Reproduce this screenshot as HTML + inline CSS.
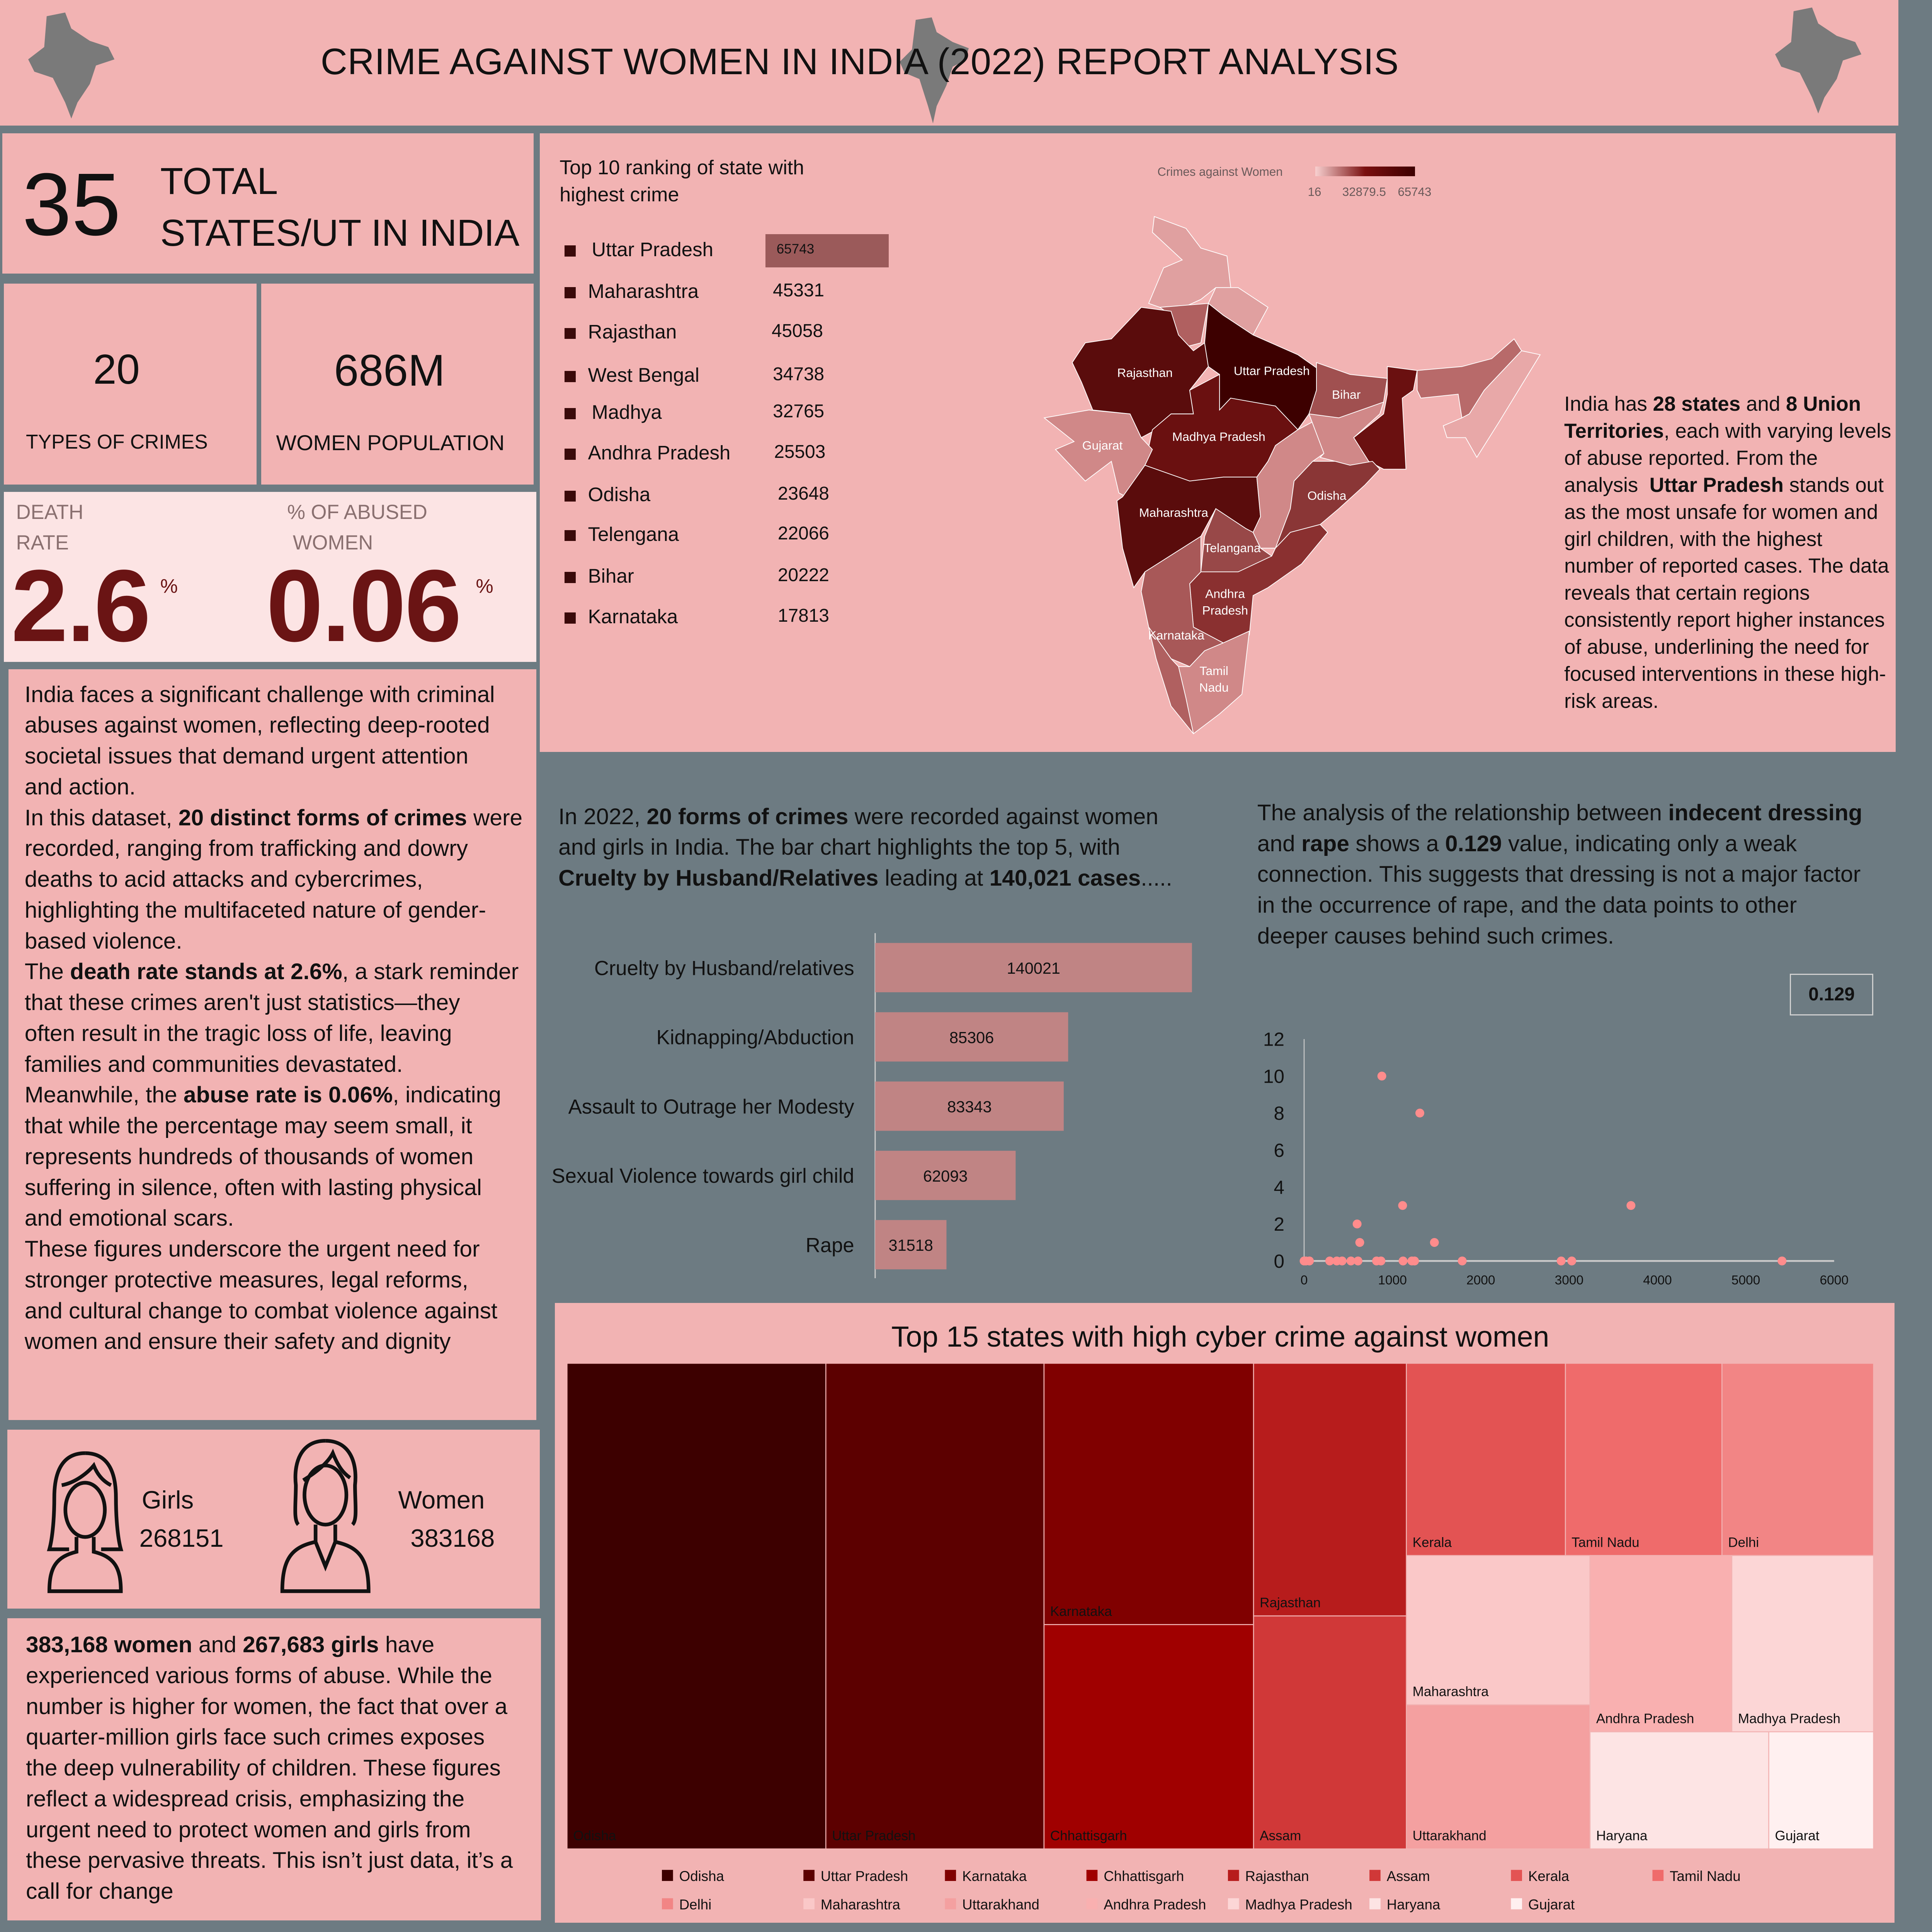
<!DOCTYPE html>
<html><head><meta charset="utf-8">
<style>
html,body{margin:0;padding:0;width:100%;height:100%;overflow:hidden;background:#6d7b82;}
#root{position:absolute;left:0;top:0;width:1545px;height:1566px;zoom:3.190;background:#6d7b82;font-family:"Liberation Sans",sans-serif;color:#111;overflow:hidden;}
.p{position:absolute;background:#f2b3b3;}
.t{position:absolute;white-space:nowrap;}
.para{position:absolute;white-space:nowrap;font-size:18.4px;line-height:25px;color:#111;}
</style></head><body>
<div id="root">

<div class="p" style="left:0;top:0;width:1540px;height:102px"></div>
<svg class="t" style="left:18px;top:8px" width="80" height="90"><path d="M20 5 L35 2 L40 15 L55 25 L70 30 L75 40 L60 45 L55 60 L45 75 L40 88 L35 75 L25 55 L10 50 L5 40 L18 30 Z" fill="#7a7a7a"/></svg>
<svg class="t" style="left:728px;top:14px" width="60" height="88"><path d="M15 2 L28 0 L32 12 L45 20 L58 25 L55 35 L45 40 L40 55 L32 72 L29 86 L25 72 L18 50 L6 45 L2 36 L12 26 Z" fill="#7a7a7a"/></svg>
<svg class="t" style="left:1435px;top:4px" width="80" height="90"><path d="M20 5 L35 2 L40 15 L55 25 L70 30 L75 40 L60 45 L55 60 L45 75 L40 88 L35 75 L25 55 L10 50 L5 40 L18 30 Z" fill="#7a7a7a"/></svg>
<div class="t" style="left:0;width:1395px;top:33px;text-align:center;font-size:30px;letter-spacing:0.2px">CRIME AGAINST WOMEN IN INDIA (2022) REPORT ANALYSIS</div>

<div class="p" style="left:2px;top:108px;width:431px;height:114px"></div>
<div class="t" style="left:18px;top:124px;font-size:72px">35</div>
<div class="t" style="left:130px;top:126px;font-size:30.5px;line-height:42px">TOTAL<br>STATES/UT IN INDIA</div>

<div class="p" style="left:3px;top:230px;width:205px;height:163px"></div>
<div class="t" style="left:3px;width:183px;text-align:center;top:280px;font-size:34px">20</div>
<div class="t" style="left:21px;top:349px;font-size:16.2px">TYPES OF CRIMES</div>

<div class="p" style="left:212px;top:230px;width:221px;height:163px"></div>
<div class="t" style="left:212px;width:208px;text-align:center;top:280px;font-size:36px">686M</div>
<div class="t" style="left:224px;top:349px;font-size:17.5px">WOMEN POPULATION</div>

<div class="p" style="left:3px;top:399px;width:432px;height:138px;background:#fce4e4"></div>
<div class="t" style="left:13px;top:403px;font-size:16.5px;line-height:25px;color:#8a7070">DEATH<br>RATE</div>
<div class="t" style="left:233px;top:403px;font-size:16.5px;line-height:25px;color:#8a7070">% OF ABUSED<br>&nbsp;WOMEN</div>
<div class="t" style="left:9px;top:444px;font-size:83px;font-weight:bold;color:#6a1414;letter-spacing:-1px">2.6</div>
<div class="t" style="left:130px;top:466px;font-size:16px;color:#6a1414">%</div>
<div class="t" style="left:216px;top:444px;font-size:83px;font-weight:bold;color:#6a1414;letter-spacing:-1px">0.06</div>
<div class="t" style="left:386px;top:466px;font-size:16px;color:#6a1414">%</div>

<div class="p" style="left:7px;top:543px;width:428px;height:609px"></div>
<div class="para" style="left:20px;top:551px">India faces a significant challenge with criminal<br>abuses against women, reflecting deep-rooted<br>societal issues that demand urgent attention<br>and action.<br>In this dataset, <b>20 distinct forms of crimes</b> were<br>recorded, ranging from trafficking and dowry<br>deaths to acid attacks and cybercrimes,<br>highlighting the multifaceted nature of gender-<br>based violence.<br>The <b>death rate stands at 2.6%</b>, a stark reminder<br>that these crimes aren't just statistics—they<br>often result in the tragic loss of life, leaving<br>families and communities devastated.<br>Meanwhile, the <b>abuse rate is 0.06%</b>, indicating<br>that while the percentage may seem small, it<br>represents hundreds of thousands of women<br>suffering in silence, often with lasting physical<br>and emotional scars.<br>These figures underscore the urgent need for<br>stronger protective measures, legal reforms,<br>and cultural change to combat violence against<br>women and ensure their safety and dignity</div>

<div class="p" style="left:6px;top:1160px;width:432px;height:145px"></div>
<svg class="t" style="left:36px;top:1175px" width="66" height="120"><g fill="none" stroke="#111" stroke-width="3"><path d="M33 4 C14 4 8 20 8 40 C8 60 6 75 4 82 L20 82"/><path d="M33 4 C52 4 58 20 58 40 C58 60 60 75 62 82 L46 82"/><ellipse cx="33" cy="50" rx="16" ry="22"/><path d="M14 30 C25 28 35 20 40 14 C44 24 50 28 54 30"/><path d="M26 72 L26 84 C10 88 4 96 4 116 L62 116 C62 96 56 88 40 84 L40 72"/></g></svg>
<div class="t" style="left:115px;top:1205px;font-size:20.5px">Girls</div>
<div class="t" style="left:113px;top:1236px;font-size:20.5px">268151</div>
<svg class="t" style="left:226px;top:1165px" width="76" height="130"><g fill="none" stroke="#111" stroke-width="3"><path d="M38 4 C18 4 12 22 14 40 C14 55 12 68 16 72"/><path d="M38 4 C58 4 64 22 62 40 C62 55 64 68 60 72"/><ellipse cx="38" cy="48" rx="17" ry="24"/><path d="M20 36 C30 30 40 22 44 14 C48 24 52 30 58 34"/><path d="M30 72 L30 86 C12 90 3 98 3 126 L73 126 C73 98 64 90 46 86 L46 72"/><path d="M30 86 L38 106 L46 86"/></g></svg>
<div class="t" style="left:323px;top:1205px;font-size:20.5px">Women</div>
<div class="t" style="left:333px;top:1236px;font-size:20.5px">383168</div>

<div class="p" style="left:6px;top:1313px;width:433px;height:245px"></div>
<div class="para" style="left:21px;top:1322px"><b>383,168 women</b> and <b>267,683 girls</b> have<br>experienced various forms of abuse. While the<br>number is higher for women, the fact that over a<br>quarter-million girls face such crimes exposes<br>the deep vulnerability of children. These figures<br>reflect a widespread crisis, emphasizing the<br>urgent need to protect women and girls from<br>these pervasive threats. This isn’t just data, it’s a<br>call for change</div>

<div class="p" style="left:438px;top:108px;width:1100px;height:502px"></div>
<div class="t" style="left:454px;top:125px;font-size:16.3px;line-height:22px">Top 10 ranking of state with<br>highest crime</div>

<svg id="map" class="t" style="left:0;top:0" width="1545" height="620"></svg>
<div class="t" style="left:939px;top:134px;font-size:9.8px;color:#6a5a5a">Crimes against Women</div>
<div class="t" style="left:1067px;top:135px;width:81px;height:8px;background:linear-gradient(to right,#f8d0d0,#7a1010,#3d0000);"></div>
<div class="t" style="left:1061px;top:150px;font-size:9.8px;color:#6a5a5a">16</div>
<div class="t" style="left:1089px;top:150px;font-size:9.8px;color:#6a5a5a">32879.5</div>
<div class="t" style="left:1134px;top:150px;font-size:9.8px;color:#6a5a5a">65743</div>

<div class="para" style="left:1269px;top:317px;font-size:16.6px;line-height:21.9px">India has <b>28 states</b> and <b>8 Union</b><br><b>Territories</b>, each with varying levels<br>of abuse reported. From the<br>analysis &nbsp;<b>Uttar Pradesh</b> stands out<br>as the most unsafe for women and<br>girl children, with the highest<br>number of reported cases. The data<br>reveals that certain regions<br>consistently report higher instances<br>of abuse, underlining the need for<br>focused interventions in these high-<br>risk areas.</div>

<div class="para" style="left:453px;top:650px;font-size:18.4px">In 2022, <b>20 forms of crimes</b> were recorded against women<br>and girls in India. The bar chart highlights the top 5, with<br><b>Cruelty by Husband/Relatives</b> leading at <b>140,021 cases</b>.....</div>
<svg id="bars" class="t" style="left:0;top:0" width="1000" height="1050"></svg>

<div class="para" style="left:1020px;top:647px;font-size:18.4px">The analysis of the relationship between <b>indecent dressing</b><br>and <b>rape</b> shows a <b>0.129</b> value, indicating only a weak<br>connection. This suggests that dressing is not a major factor<br>in the occurrence of rape, and the data points to other<br>deeper causes behind such crimes.</div>
<div class="t" style="left:1452px;top:790px;width:66px;height:32px;border:1px solid #d0d0d0;text-align:center;line-height:32px;font-size:15px;font-weight:bold;color:#111">0.129</div>
<svg id="scatter" class="t" style="left:0;top:0" width="1545" height="1050"></svg>

<div class="p" style="left:450px;top:1057px;width:1087px;height:503px"></div>
<div class="t" style="left:450px;width:1080px;text-align:center;top:1071px;font-size:23.6px">Top 15 states with high cyber crime against women</div>
<svg id="tree" class="t" style="left:0;top:0" width="1545" height="1566"></svg>
</div>

<script>
const NS="http://www.w3.org/2000/svg";
function mk(parent,tag,attrs,text){const e=document.createElementNS(NS,tag);for(const k in attrs)e.setAttribute(k,attrs[k]);if(text!==undefined)e.textContent=text;parent.appendChild(e);return e;}

const rankStates=["Uttar Pradesh","Maharashtra","Rajasthan","West Bengal","Madhya","Andhra Pradesh","Odisha","Telengana","Bihar","Karnataka"];
const rankValues=[65743,45331,45058,34738,32765,25503,23648,22066,20222,17813];
(function(){
  const root=document.getElementById('root');
  const ys=[203,237,270,305,335,368,402,434,468,501];
  rankStates.forEach((s,i)=>{
    const b=document.createElement('div');b.className='t';
    b.style.cssText=`left:458px;top:${ys[i]-4}px;width:9px;height:9px;background:#3a0a0a`;
    
    
    root.appendChild(b);
    const n=document.createElement('div');n.className='t';
    n.style.cssText=`left:${i==0||i==4?480:477}px;top:${ys[i]-10}px;font-size:16px`;
    n.textContent=s;
    
    
    root.appendChild(n);
    if(i==0){
      const bar=document.createElement('div');bar.className='t';
      bar.style.cssText=`left:621px;top:190px;width:${100*rankValues[0]/65743}px;height:27px;background:#9b5a5a`;
      
      
      root.appendChild(bar);
    }
    const v=document.createElement('div');v.className='t';
    v.style.cssText=i==0?`left:630px;top:${ys[i]-7}px;font-size:11px`:`left:${[0,627,626,627,627,628,631,631,631,631][i]}px;top:${ys[i]-10}px;font-size:15px`;
    v.textContent=rankValues[i];
    
    
    root.appendChild(v);
  });
})();

const mapRegions=[
 ["jk","#e0a0a0",[[375,200],[460,230],[500,280],[570,300],[580,380],[540,380],[500,410],[430,440],[390,430],[360,420],[400,330],[450,310],[370,240]]],
 ["uttarakhand","#e0a0a0",[[540,380],[600,380],[680,430],[640,500],[560,450],[520,420]]],
 ["punjab-haryana","#b06060",[[390,430],[520,420],[500,520],[460,530],[440,500],[420,450]]],
 ["rajasthan","#5a0c0c",[[340,430],[420,440],[440,500],[480,540],[510,520],[520,580],[470,640],[480,700],[420,700],[380,740],[340,760],[310,700],[210,690],[180,620],[155,570],[190,520],[260,510],[300,470]]],
 ["uttar-pradesh","#3d0000",[[520,420],[560,450],[640,500],[760,550],[820,590],[810,640],[790,700],[760,740],[700,680],[600,670],[580,660],[550,690],[550,600],[520,580],[510,520]]],
 ["madhya-pradesh","#6a1010",[[470,640],[550,600],[550,690],[580,660],[700,680],[760,740],[700,780],[680,820],[650,860],[560,860],[470,870],[400,860],[350,830],[370,740],[420,700],[480,700]]],
 ["gujarat","#d08888",[[80,710],[200,690],[310,700],[340,760],[370,790],[350,830],[300,910],[280,900],[260,820],[190,870],[110,790],[160,770]]],
 ["maharashtra","#5a0c0c",[[290,910],[350,830],[470,870],[560,860],[650,860],[660,960],[640,1000],[620,990],[540,940],[500,1010],[450,1040],[350,1100],[320,1140],[290,1040],[275,920]]],
 ["chhattisgarh","#d08888",[[700,780],[760,740],[800,720],[830,800],[800,820],[750,870],[740,940],[700,1040],[660,1040],[640,1000],[660,960],[650,860],[680,820]]],
 ["bihar","#a05050",[[810,570],[900,600],[1000,610],[990,670],[940,700],[870,710],[790,700],[810,640]]],
 ["jharkhand","#d08888",[[790,700],[870,710],[990,670],[980,700],[910,760],[960,820],[900,830],[860,820],[820,810],[830,800]]],
 ["west-bengal","#6a1010",[[1000,580],[1080,590],[1070,640],[1040,660],[1050,840],[990,840],[950,820],[910,760],[990,700],[1000,650]]],
 ["odisha","#8a3636",[[750,870],[800,820],[860,820],[900,830],[960,820],[980,840],[940,880],[870,940],[820,980],[740,1000],[700,1040],[740,940]]],
 ["telangana","#984848",[[540,940],[620,990],[640,1000],[660,1040],[690,1060],[640,1090],[600,1100],[500,1100],[510,1010]]],
 ["andhra-pradesh","#8a3030",[[700,1040],[740,1000],[820,980],[840,1000],[770,1080],[680,1140],[640,1160],[630,1260],[560,1280],[480,1240],[470,1130],[500,1100],[600,1100],[690,1060]]],
 ["karnataka","#a85858",[[350,1100],[450,1040],[500,1010],[500,1100],[470,1130],[480,1240],[560,1280],[510,1300],[470,1340],[420,1320],[360,1240],[340,1150]]],
 ["tamil-nadu","#d08888",[[510,1300],[560,1280],[630,1250],[610,1410],[550,1460],[480,1510],[460,1420],[440,1340],[470,1340]]],
 ["kerala","#b06060",[[360,1240],[420,1320],[440,1340],[460,1420],[480,1510],[420,1440],[380,1320]]],
 ["assam","#b86a6a",[[1080,590],[1200,580],[1280,560],[1340,510],[1360,540],[1300,600],[1260,640],[1220,700],[1200,710],[1190,650],[1090,660],[1080,640]]],
 ["northeast","#e8a8a8",[[1300,600],[1360,540],[1410,550],[1300,720],[1240,810],[1210,760],[1160,760],[1150,730],[1200,710],[1220,700],[1260,640]]]
];
const mapLabels=[["Rajasthan",350,597],["Uttar Pradesh",690,592],["Bihar",890,652],["Gujarat",236,781],["Madhya Pradesh",548,759],["Odisha",838,908],["Maharashtra",427,951],["Telangana",584,1041],["Andhra",565,1157],["Pradesh",565,1199],["Karnataka",434,1262],["Tamil",535,1352],["Nadu",535,1394]];
(function(){
  const svg=document.getElementById('map');
  const X=zx=>823+zx*0.3025, Y=zy=>111.6+zy*0.3203;
  mapRegions.forEach(r=>{
    const p=mk(svg,'polygon',{points:r[2].map(q=>X(q[0])+','+Y(q[1])).join(' '),fill:r[1],stroke:'#fff','stroke-width':0.6});
    
    
  });
  mapLabels.forEach(l=>{
    const t=mk(svg,'text',{x:X(l[1]),y:Y(l[2])+3,'font-size':10,fill:'#fff','text-anchor':'middle','font-family':'Liberation Sans, sans-serif'},l[0]);
    
    
  });
})();

const crimeCats=["Cruelty by Husband/relatives","Kidnapping/Abduction","Assault to Outrage her Modesty","Sexual Violence towards girl child","Rape"];
const crimeVals=[140021,85306,83343,62093,31518];
(function(){
  const svg=document.getElementById('bars');
  const x0=710, xs=v=>v*257/140021;
  const yc=i=>785+i*56.2;
  mk(svg,'line',{x1:x0,y1:757,x2:x0,y2:1037,stroke:'#c8c8c8','stroke-width':1});
  crimeCats.forEach((c,i)=>{
    const r=mk(svg,'rect',{x:x0,y:yc(i)-20,width:xs(crimeVals[i]),height:40,fill:'#c08484'});
    
    
    const v=mk(svg,'text',{x:x0+xs(crimeVals[i])/2,y:yc(i)+5,'font-size':13,'text-anchor':'middle',fill:'#111','font-family':'Liberation Sans, sans-serif'},crimeVals[i]);
    
    
    const l=mk(svg,'text',{x:693,y:yc(i)+6,'font-size':16.5,'text-anchor':'end',fill:'#111','font-family':'Liberation Sans, sans-serif'},c);
    
    
  });
})();

const dressX=[0,20,60,290,370,430,530,610,630,600,820,870,880,1115,1120,1220,1250,1310,1475,1790,2910,3030,3700,5410];
const rapeY=[0,0,0,0,0,0,0,0,1,2,0,0,10,3,0,0,0,8,1,0,0,0,3,0];
const xTicks=[0,1000,2000,3000,4000,5000,6000];
const yTicks=[0,2,4,6,8,10,12];
(function(){
  const svg=document.getElementById('scatter');
  const sx=v=>1058+v*(430/6000), sy=v=>1023-v*(180/12);
  mk(svg,'line',{x1:sx(0),y1:sy(12),x2:sx(0),y2:sy(0),stroke:'#c8c8c8','stroke-width':0.8});
  mk(svg,'line',{x1:sx(0),y1:sy(0),x2:sx(6000),y2:sy(0),stroke:'#c8c8c8','stroke-width':1.5});
  yTicks.forEach(t=>{const e=mk(svg,'text',{x:1042,y:sy(t)+5.5,'font-size':15.5,'text-anchor':'end',fill:'#111','font-family':'Liberation Sans, sans-serif'},t);
    
    });
  xTicks.forEach(t=>{const e=mk(svg,'text',{x:sx(t),y:1042,'font-size':10.5,'text-anchor':'middle',fill:'#111','font-family':'Liberation Sans, sans-serif'},t);
    
    });
  dressX.forEach((x,i)=>{const c=mk(svg,'circle',{cx:sx(x),cy:sy(rapeY[i]),r:3.6,fill:'#ff8c8c'});
    
    });
})();

const treeStates=["Odisha","Uttar Pradesh","Karnataka","Chhattisgarh","Rajasthan","Assam","Kerala","Tamil Nadu","Delhi","Maharashtra","Uttarakhand","Andhra Pradesh","Madhya Pradesh","Haryana","Gujarat"];
const treeVals=[8274,6974,3604,3094,2542,2344,2012,1981,1919,1803,1743,1645,1645,1378,808];
const treeColors=["#3d0000","#5c0000","#800000","#a00000","#b71c1c","#d03838","#e35353","#ef6b6b","#f28585","#fac8c8","#f4a0a0","#f9b0b0","#fcd6d6","#fde4e4","#fff0f0"];
(function(){
  const svg=document.getElementById('tree');
  const layout=['h',[0,1,['v',[2,3]],['v',[4,5]],['v',[['h',[6,7,8]],['h',[['v',[9,10]],['v',[['h',[11,12]],['h',[13,14]]]]]]]]]];
  const sum=n=>typeof n==='number'?treeVals[n]:n[1].reduce((a,c)=>a+sum(c),0);
  const rects=[];
  function place(n,x,y,w,h){
    if(typeof n==='number'){rects.push([n,x,y,w,h]);return;}
    const tot=sum(n);let off=0;
    n[1].forEach(c=>{const f=sum(c)/tot;
      if(n[0]==='h'){place(c,x+off*w,y,w*f,h);}else{place(c,x,y+off*h,w,h*f);}
      off+=f;});
  }
  place(layout,460,1106,1060,394);
  rects.forEach(r=>{const [i,x,y,w,h]=r;
    const e=mk(svg,'rect',{x:x,y:y,width:w,height:h,fill:treeColors[i],stroke:'#f2b3b3','stroke-width':0.8});
    
    
    const t=mk(svg,'text',{x:x+5,y:y+h-7,'font-size':11,fill:'#111','font-family':'Liberation Sans, sans-serif'},treeStates[i]);
    
    
  });
  treeStates.forEach((s,i)=>{const col=i%8,row=Math.floor(i/8);
    const x=537+col*114.8,y=1522+row*23;
    const b=mk(svg,'rect',{x:x,y:y-5,width:9,height:9,fill:treeColors[i]});
    
    
    const t=mk(svg,'text',{x:x+14,y:y+4,'font-size':11.5,fill:'#111','font-family':'Liberation Sans, sans-serif'},s);
    
    
  });
})();
</script>
</body></html>
